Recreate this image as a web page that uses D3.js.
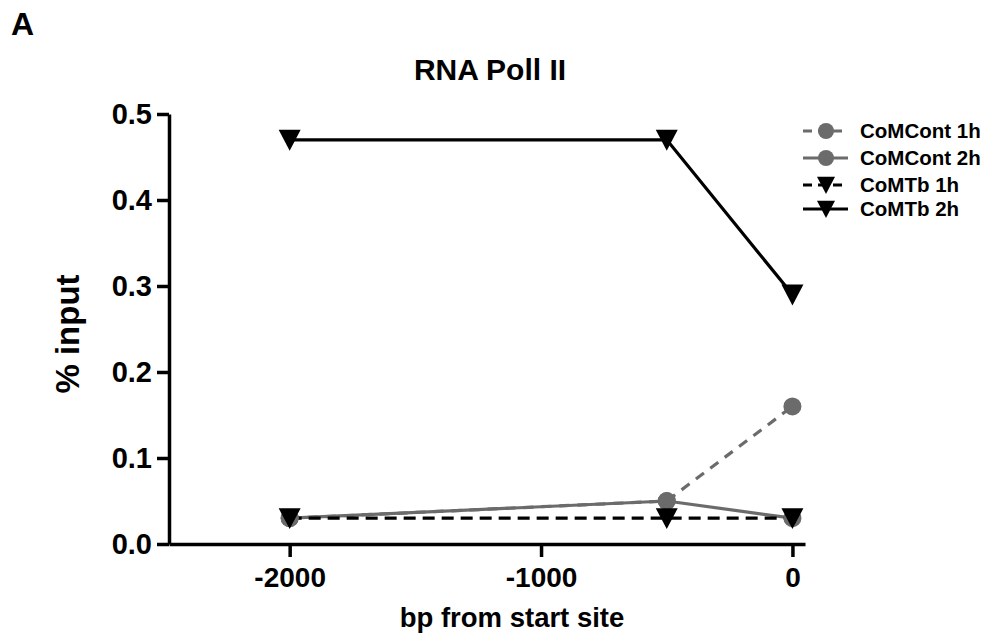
<!DOCTYPE html>
<html lang="en">
<head>
  <meta charset="utf-8">
  <script src="https://d3js.org/d3.v7.min.js"></script>
  <style>
    body { margin: 0; background: #fff; }
    text { font-family: "Liberation Sans", Arial, sans-serif; font-weight: bold; }
  </style>
</head>
<body>
<div id="chart"></div>
<script>

// data
var positions = [-2000, -500, 0];
var seriesNames = ["CoMCont 1h", "CoMCont 2h", "CoMTb 1h", "CoMTb 2h"];
var comCont1h = [0.03, 0.05, 0.16];
var comCont2h = [0.03, 0.05, 0.03];
var comTb1h = [0.03, 0.03, 0.03];
var comTb2h = [0.47, 0.47, 0.29];
var xTicks = [-2000, -1000, 0];
var yTicks = [0.0, 0.1, 0.2, 0.3, 0.4, 0.5];

var W = 996, H = 639;

var svg = d3.select("#chart")
  .append("svg")
  .attr("width", W)
  .attr("height", H);

// scales
var x = d3.scaleLinear()
  .domain([-2480, 50])
  .range([169, 805]);

var y = d3.scaleLinear()
  .domain([0, 0.5])
  .range([544, 114]);

// series styling
var series = [
  {name: seriesNames[0], values: comCont1h, color: "#6b6b6b", dash: "10,8", shape: "circle"},
  {name: seriesNames[1], values: comCont2h, color: "#6b6b6b", dash: null, shape: "circle"},
  {name: seriesNames[2], values: comTb1h, color: "#000", dash: "12,7", shape: "tri"},
  {name: seriesNames[3], values: comTb2h, color: "#000", dash: null, shape: "tri"}
];

// axes (plain hyphen for negatives, like the original)
var xAxis = svg.append("g")
  .attr("transform", "translate(0," + y(0) + ")")
  .call(d3.axisBottom(x).tickValues(xTicks).tickSize(13).tickSizeOuter(0).tickPadding(10)
    .tickFormat(function(d) { return String(d); }));
xAxis.select(".domain").attr("stroke-width", 3.5);
xAxis.selectAll(".tick line").attr("stroke-width", 3.5);
xAxis.selectAll(".tick text").style("font-size", "28px").attr("fill", "#000");

var yAxis = svg.append("g")
  .attr("transform", "translate(" + x.range()[0] + ",0)")
  .call(d3.axisLeft(y).tickValues(yTicks).tickSize(12).tickSizeOuter(0).tickPadding(5)
    .tickFormat(d3.format(".1f")));
yAxis.select(".domain").attr("stroke-width", 3.5);
yAxis.selectAll(".tick line").attr("stroke-width", 3.5);
yAxis.selectAll(".tick text").style("font-size", "29px").attr("fill", "#000");

// lines
var line = d3.line()
  .x(function(d, i) { return x(positions[i]); })
  .y(function(d) { return y(d); });

var drawOrder = [1, 0, 3, 2];
drawOrder.forEach(function(k) {
  var s = series[k];
  svg.append("path")
    .datum(s.values)
    .attr("d", line)
    .attr("fill", "none")
    .attr("stroke", s.color)
    .attr("stroke-width", 3.2)
    .attr("stroke-dasharray", s.dash);
});

// markers
function triPath(size) {
  var w = size, h = size * 0.95;
  return "M" + (-w / 2) + "," + (-h * 0.48) + "L" + (w / 2) + "," + (-h * 0.48) + "L0," + (h * 0.52) + "Z";
}

[0, 1, 2, 3].forEach(function(k) {
  var s = series[k];
  var g = svg.append("g");
  if (s.shape === "circle") {
    g.selectAll("circle")
      .data(s.values)
      .enter()
      .append("circle")
      .attr("cx", function(d, i) { return x(positions[i]); })
      .attr("cy", function(d) { return y(d); })
      .attr("r", 9)
      .attr("fill", s.color);
  } else {
    g.selectAll("path")
      .data(s.values)
      .enter()
      .append("path")
      .attr("d", triPath(22))
      .attr("transform", function(d, i) { return "translate(" + x(positions[i]) + "," + y(d) + ")"; })
      .attr("fill", "#000");
  }
});

// legend
var legendY = [131, 158, 185, 209];
var legend = svg.append("g");
series.forEach(function(s, i) {
  var row = legend.append("g").attr("transform", "translate(0," + legendY[i] + ")");
  row.append("line")
    .attr("x1", 803).attr("x2", 848)
    .attr("y1", 0).attr("y2", 0)
    .attr("stroke", s.color)
    .attr("stroke-width", 3.2)
    .attr("stroke-dasharray", s.dash ? "9,6" : null);
  if (s.shape === "circle") {
    row.append("circle").attr("cx", 826).attr("cy", 0).attr("r", 8).attr("fill", s.color);
  } else {
    row.append("path").attr("d", triPath(18)).attr("transform", "translate(826,0)").attr("fill", "#000");
  }
  row.append("text")
    .attr("x", 860)
    .attr("y", 0)
    .attr("dy", "0.35em")
    .style("font-size", "20.5px")
    .text(s.name);
});

// titles
svg.append("text")
  .attr("x", 11).attr("y", 35)
  .style("font-size", "32px")
  .text("A");

svg.append("text")
  .attr("x", 490).attr("y", 80)
  .attr("text-anchor", "middle")
  .style("font-size", "30px")
  .text("RNA Poll II");

svg.append("text")
  .attr("x", 512).attr("y", 627)
  .attr("text-anchor", "middle")
  .style("font-size", "27.5px")
  .text("bp from start site");

svg.append("text")
  .attr("transform", "translate(79,334) rotate(-90)")
  .attr("text-anchor", "middle")
  .style("font-size", "33px")
  .text("% input");

</script>
</body>
</html>
